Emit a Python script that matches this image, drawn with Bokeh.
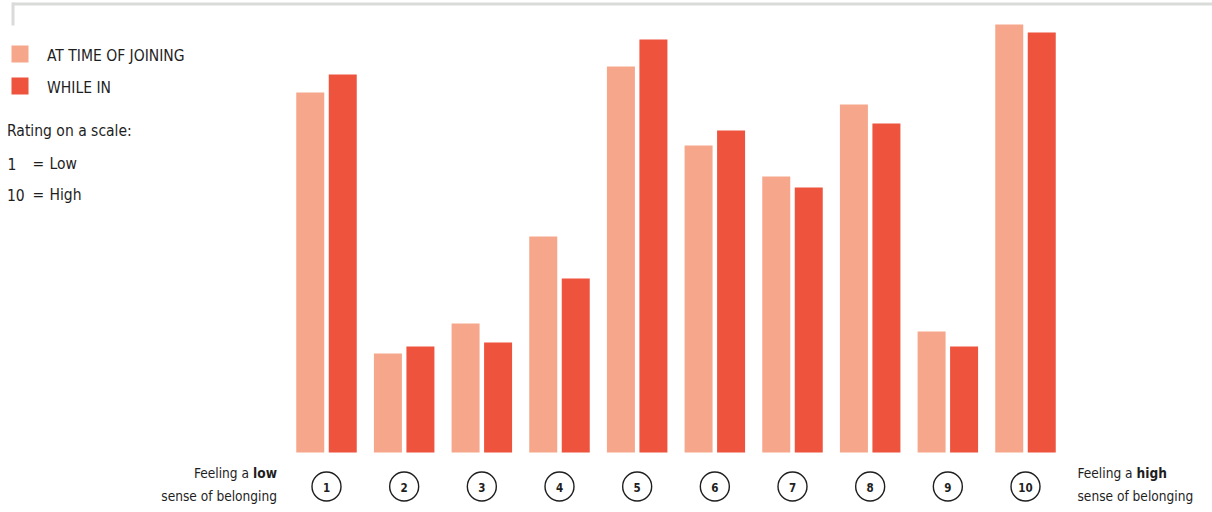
from bokeh.plotting import figure
from bokeh.models import Range1d
from bokeh.core.properties import value
from bokeh.embed import file_html
from bokeh.resources import INLINE

# ---------------- data ----------------
categories = [1, 2, 3, 4, 5, 6, 7, 8, 9, 10]
category_labels = ["1", "2", "3", "4", "5", "6", "7", "8", "9", "10"]
at_time_of_joining = [18.0, 4.95, 6.45, 10.8, 19.3, 15.35, 13.8, 17.4, 6.05, 21.4]
while_in = [18.9, 5.3, 5.5, 8.7, 20.65, 16.1, 13.25, 16.45, 5.3, 21.0]
series_names = ["AT TIME OF JOINING", "WHILE IN"]

# ---------------- layout helpers ----------------
W, H = 1212, 512
X0 = 326.0          # pixel centre of category 1
PX_PER_X = 77.667   # pixels between categories
BASE = 452.0        # pixel of the baseline
PX_PER_Y = 20.0     # pixels per value unit


def dx(px):
    return 1 + (px - X0) / PX_PER_X


def dy(py):
    return (BASE - py) / PX_PER_Y


LIGHT = "#f6a78b"
DARK = "#ee533d"
TXT = "#1e1e1e"
FONT = "DejaVu Sans Condensed"
TY = 6.5  # baseline correction for text placement

p = figure(width=W, height=H, output_backend="svg", toolbar_location=None,
           x_range=Range1d(dx(0), dx(W)), y_range=Range1d(dy(H), dy(0)),
           x_axis_location=None, y_axis_location=None,
           min_border=0, outline_line_color=None,
           background_fill_color="white", border_fill_color="white")
p.xgrid.visible = False
p.ygrid.visible = False

off = 16.25 / PX_PER_X
bw = 28 / PX_PER_X
p.vbar(x=[c - off for c in categories], top=at_time_of_joining, bottom=0,
       width=bw, fill_color=LIGHT, line_color=None)
p.vbar(x=[c + off for c in categories], top=while_in, bottom=0,
       width=bw, fill_color=DARK, line_color=None)

# top frame line
p.line(x=[dx(12.5), dx(W)], y=[dy(3.5), dy(3.5)], line_color="#d9dbd9",
       line_width=3, line_cap="butt")
p.line(x=[dx(12.5), dx(12.5)], y=[dy(2), dy(25)], line_color="#d9dbd9",
       line_width=3, line_cap="butt")

# legend
p.scatter(x=[dx(19.5)], y=[dy(53.5)], marker="square", size=17,
          fill_color=LIGHT, line_color=None)
p.scatter(x=[dx(19.5)], y=[dy(85.5)], marker="square", size=17,
          fill_color=DARK, line_color=None)


def txt(x, py, s, size="13.6px", align="left", bold=False):
    p.text(x=[x], y=[dy(py - TY)], text=[s], text_font=value(FONT),
           text_font_size=size, text_color=TXT, text_align=align,
           text_baseline="alphabetic",
           text_font_style="bold" if bold else "normal")


LEG = "15.5px"
txt(dx(46.5), 62, series_names[0], size=LEG)
txt(dx(46.5), 94, series_names[1], size=LEG)
txt(dx(6.5), 137, "Rating on a scale:", size=LEG)
txt(dx(7), 169.5, "1", size=LEG)
txt(dx(32), 169.5, "=", size=LEG)
txt(dx(49), 169.5, "Low", size=LEG)
txt(dx(6.5), 201, "10", size=LEG)
txt(dx(32), 201, "=", size=LEG)
txt(dx(49), 201, "High", size=LEG)

# bottom annotations
txt(dx(248.5), 479, "Feeling a", align="right")
txt(dx(276.5), 479, "low", align="right", bold=True)
txt(dx(276.5), 501.5, "sense of belonging", align="right")
txt(dx(1077), 479, "Feeling a")
txt(dx(1136), 479, "high", bold=True)
txt(dx(1077), 501.5, "sense of belonging")

# category circles
p.scatter(x=categories, y=[dy(486)] * len(categories), marker="circle",
          size=29, fill_color="white", line_color=TXT, line_width=1.4)
p.text(x=categories, y=[dy(486.5)] * len(categories), text=category_labels,
       text_font=value(FONT), text_font_size="11.5px", text_font_style="bold",
       text_color=TXT, text_align="center", text_baseline="middle")

open("out.html", "w").write(file_html(p, INLINE))
